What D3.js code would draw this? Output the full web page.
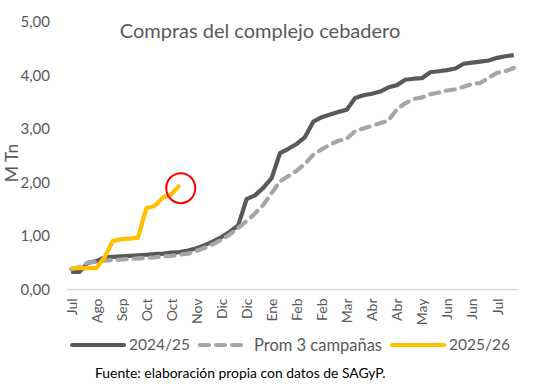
<!DOCTYPE html>
<html><head><meta charset="utf-8">
<script src="https://cdn.jsdelivr.net/npm/d3@7"></script>
<style>body{margin:0;background:#fff}svg{display:block}text{font-family:Lato,"Open Sans",sans-serif}</style>
</head><body>
<script>
const tickLabels = ["Jul","Ago","Sep","Oct","Oct","Nov","Dic","Dic","Ene","Feb","Feb","Mar","Abr","Abr","May","Jun","Jun","Jul"];
const yTicks = [0,1,2,3,4,5];
const s2425 = [0.33,0.33,0.50,0.53,0.60,0.61,0.62,0.63,0.64,0.65,0.66,0.67,0.69,0.70,0.73,0.77,0.83,0.90,0.98,1.08,1.20,1.69,1.76,1.90,2.08,2.55,2.63,2.72,2.85,3.14,3.22,3.27,3.32,3.36,3.58,3.63,3.66,3.70,3.78,3.82,3.92,3.94,3.95,4.06,4.08,4.10,4.13,4.22,4.24,4.26,4.28,4.33,4.36,4.38];
const sProm = [0.38,0.42,0.50,0.52,0.54,0.55,0.56,0.57,0.58,0.59,0.60,0.62,0.63,0.65,0.67,0.72,0.78,0.85,0.93,1.03,1.15,1.28,1.42,1.58,1.80,2.02,2.12,2.22,2.35,2.52,2.62,2.71,2.78,2.82,2.96,3.01,3.06,3.11,3.16,3.37,3.48,3.56,3.59,3.65,3.68,3.72,3.74,3.79,3.84,3.86,3.96,4.05,4.08,4.14];
const s2526 = [0.40,0.40,0.40,0.40,0.60,0.91,0.94,0.95,0.97,1.52,1.56,1.72,1.78,1.95];
const series = [
  {name:"2024/25", values:s2425, color:"#595959", dash:null},
  {name:"Prom 3 campañas", values:sProm, color:"#a6a6a6", dash:"9,7"},
  {name:"2025/26", values:s2526, color:"#ffc000", dash:null}
];
const W=550,H=388;
const svg=d3.select("body").append("svg").attr("width",W).attr("height",H);
const weeks=d3.range(s2425.length);
const x=d3.scalePoint().domain(weeks).range([67,518]).padding(0.5);
const y=d3.scaleLinear().domain([0,5]).range([289.5,22]);
const grey="#595959";

// x axis
const xa=svg.append("g").attr("transform","translate(0,289.5)")
  .call(d3.axisBottom(x).tickValues(weeks.filter(i=>i%3===0)).tickSize(0).tickFormat(i=>tickLabels[i/3]));
xa.select(".domain").attr("stroke","#d9d9d9").attr("stroke-width",1.3).attr("d","M67,0H518");
xa.selectAll("text").attr("transform","rotate(-90)").attr("text-anchor","end")
  .attr("x",-9).attr("y",0).attr("dy","0.35em").attr("fill",grey).style("font-size","14px").style("font-family","Lato");

// y axis
const ya=svg.append("g").attr("transform","translate(52,0)")
  .call(d3.axisLeft(y).tickValues(yTicks).tickSize(0).tickFormat(d=>d3.format(".2f")(d).replace(".",",")));
ya.select(".domain").remove();
ya.selectAll("text").attr("x",-2).attr("fill",grey).style("font-size","15px").style("font-family","Lato");

svg.append("text").attr("transform","translate(18,163) rotate(-90)").attr("text-anchor","middle")
  .attr("fill",grey).style("font-size","17.5px").text("M Tn");

// title
svg.append("text").attr("x",260).attr("y",38).attr("text-anchor","middle").attr("fill",grey)
  .style("font-size","20px").text("Compras del complejo cebadero");

// lines
const line=d3.line().x((d,i)=>x(i)).y(d=>y(d));
series.forEach(s=>{
  svg.append("path").datum(s.values).attr("d",line).attr("fill","none")
    .attr("stroke",s.color).attr("stroke-width",4.2).attr("stroke-linejoin","round")
    .attr("stroke-linecap",s.dash?"round":"butt").attr("stroke-dasharray",s.dash);
});

// red circle at end of 2025/26
const last=s2526.length-1;
svg.append("ellipse").attr("cx",x(last)+1).attr("cy",y(s2526[last])+3).attr("rx",14.5).attr("ry",15)
  .attr("fill","none").attr("stroke","#ff0000").attr("stroke-width",2);

// legend
const leg=[{x0:72,x1:124,tx:129},{x0:200,x1:246,tx:254},{x0:392,x1:444,tx:449}];
series.forEach((s,i)=>{
  const L=leg[i];
  svg.append("line").attr("x1",L.x0).attr("x2",L.x1).attr("y1",345).attr("y2",345)
    .attr("stroke",s.color).attr("stroke-width",4.2).attr("stroke-linecap","round")
    .attr("stroke-dasharray",s.dash);
  svg.append("text").attr("x",L.tx).attr("y",345).attr("dy","0.35em").attr("fill",grey)
    .style("font-size",i===1?"16.5px":"15.5px").text(s.name);
});

svg.append("text").attr("x",95).attr("y",378).attr("fill","#000").style("font-size","13.9px")
  .text("Fuente: elaboración propia con datos de SAGyP.");
</script>
</body></html>
